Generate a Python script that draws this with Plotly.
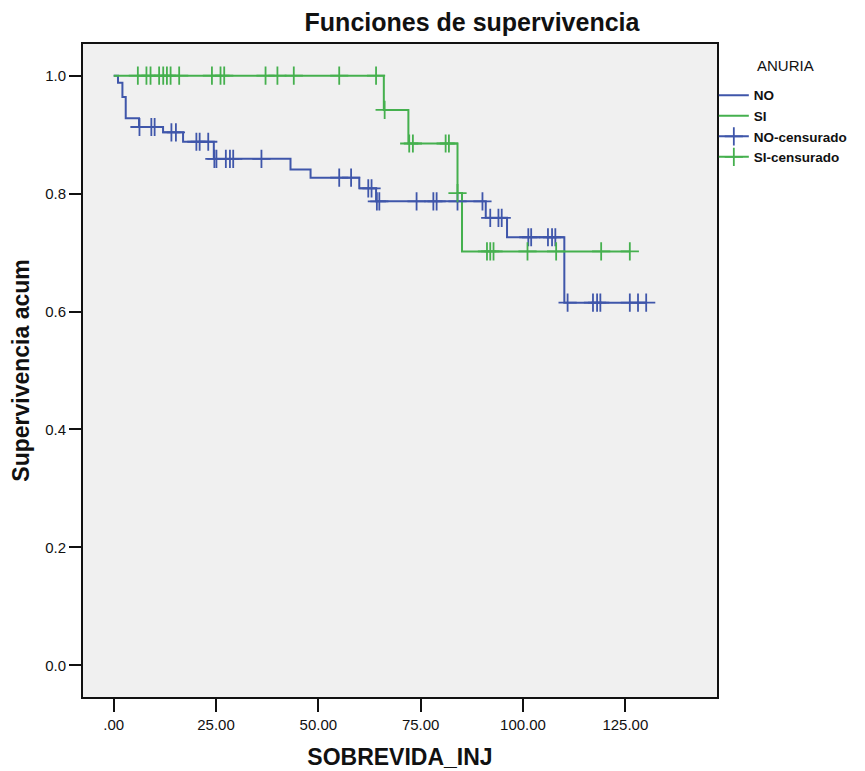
import plotly.graph_objects as go

# ---- data ----
# ANURIA = NO  (event times and survival after each event)
no_event_times = [1.05, 2.13, 2.94, 6.19, 12.06, 16.95, 24.46, 43.2, 48.1, 60.0, 64.1, 90.9, 96.1, 110.1]
no_surv = [0.988, 0.964, 0.928, 0.913, 0.904, 0.888, 0.859, 0.841, 0.827, 0.809, 0.787, 0.759, 0.726, 0.615]
no_censor_times = [6.3, 9.2, 10.0, 14.1, 15.2, 20.2, 21.0, 23.1, 24.6, 25.1, 27.4, 28.4, 29.2, 36.1,
                   55.1, 58.0, 62.2, 63.0, 64.3, 64.9, 74.0, 78.1, 78.9, 84.0, 90.1,
                   92.0, 94.0, 94.8, 101.3, 102.0, 106.1, 107.1, 107.9,
                   110.9, 117.1, 118.1, 118.9, 126.1, 128.1, 130.1]

# ANURIA = SI
si_event_times = [66.0, 72.0, 84.0, 85.1]
si_surv = [0.942, 0.885, 0.801, 0.702]
si_censor_times = [5.9, 8.0, 9.0, 11.1, 12.1, 13.0, 13.9, 16.0, 24.0, 26.1, 27.0, 37.1, 40.0, 44.0,
                   55.1, 64.1, 66.2, 72.2, 73.1, 81.1, 81.9, 84.0,
                   91.2, 92.0, 92.8, 101.1, 108.1, 119.1, 126.1]

x_tickvals = [0, 25, 50, 75, 100, 125]
x_ticktext = [".00", "25.00", "50.00", "75.00", "100.00", "125.00"]
y_tickvals = [0.0, 0.2, 0.4, 0.6, 0.8, 1.0]
y_ticktext = ["0.0", "0.2", "0.4", "0.6", "0.8", "1.0"]

BLUE = "#3F56AA"
GREEN = "#45B04E"
FONT = "Liberation Sans, Arial, sans-serif"

# the page body has an 8px margin; the figure is sized to fill the rest of the window
W, H = 857, 763
ML, MR, MT, MB = 75, 148, 36, 74
PW, PH = W - ML - MR, H - MT - MB


def step_curve(times, surv, end):
    xs = [0.0] + list(times) + [end]
    ys = [1.0] + list(surv) + [surv[-1]]
    return xs, ys


def surv_at(t, times, surv):
    s = 1.0
    for ti, si in zip(times, surv):
        if ti <= t:
            s = si
    return s


no_x, no_y = step_curve(no_event_times, no_surv, max(no_censor_times))
si_x, si_y = step_curve(si_event_times, si_surv, max(si_censor_times))
no_cy = [surv_at(t, no_event_times, no_surv) for t in no_censor_times]
si_cy = [surv_at(t, si_event_times, si_surv) for t in si_censor_times]

fig = go.Figure()
fig.add_trace(go.Scatter(x=no_x, y=no_y, mode="lines", line=dict(color=BLUE, width=2, shape="hv"),
                         name="<b>NO</b>"))
fig.add_trace(go.Scatter(x=si_x, y=si_y, mode="lines", line=dict(color=GREEN, width=2, shape="hv"),
                         name="<b>SI</b>"))
fig.add_trace(go.Scatter(x=no_censor_times, y=no_cy, mode="markers", showlegend=False,
                         marker=dict(symbol="cross-thin", size=13, line=dict(color=BLUE, width=1.8))))
fig.add_trace(go.Scatter(x=si_censor_times, y=si_cy, mode="markers", showlegend=False,
                         marker=dict(symbol="cross-thin", size=13, line=dict(color=GREEN, width=1.8))))
# legend-only entries for censored marks
fig.add_trace(go.Scatter(x=[None], y=[None], mode="lines+markers", name="<b>NO-censurado</b>",
                         line=dict(color=BLUE, width=2),
                         marker=dict(symbol="cross-thin", size=13, line=dict(color=BLUE, width=1.8))))
fig.add_trace(go.Scatter(x=[None], y=[None], mode="lines+markers", name="<b>SI-censurado</b>",
                         line=dict(color=GREEN, width=2),
                         marker=dict(symbol="cross-thin", size=13, line=dict(color=GREEN, width=1.8))))

fig.update_layout(
    width=W, height=H,
    margin=dict(l=ML, r=MR, t=MT, b=MB, autoexpand=False),
    paper_bgcolor="white",
    plot_bgcolor="#F0F0F0",
    font=dict(family=FONT, size=15, color="#111"),
    title=dict(text="<b>Funciones de supervivencia</b>", x=464 / W, xanchor="center",
               y=1 - 14 / H, yanchor="middle", font=dict(family=FONT, size=25, color="#111")),
    legend=dict(x=0.995, xanchor="left", y=0.945, yanchor="top",
                bgcolor="rgba(0,0,0,0)", font=dict(family=FONT, size=13.5, color="#111"),
                tracegroupgap=0, itemwidth=30, borderwidth=0),
    showlegend=True,
    annotations=[dict(text="ANURIA", xref="paper", yref="paper",
                      x=(747 - ML) / PW, y=(PH + MT - 57) / PH,
                      xanchor="left", yanchor="middle", showarrow=False,
                      font=dict(family=FONT, size=15, color="#111"))],
)
fig.update_xaxes(range=[-7.5, 147.4], tickvals=x_tickvals, ticktext=x_ticktext,
                 showgrid=False, zeroline=False, showline=True, mirror=True, automargin=False,
                 linecolor="#111", linewidth=2, ticks="outside", ticklen=13, tickwidth=1.5,
                 tickcolor="#111", tickfont=dict(size=15),
                 title=dict(text="<b>SOBREVIDA_INJ</b>", font=dict(size=23), standoff=17))
fig.update_yaxes(range=[-0.0538, 1.0538], tickvals=y_tickvals, ticktext=y_ticktext,
                 showgrid=False, zeroline=False, showline=True, mirror=True, automargin=False,
                 linecolor="#111", linewidth=2, ticks="outside", ticklen=12, tickwidth=1.5,
                 tickcolor="#111", tickfont=dict(size=15),
                 title=dict(text="<b>Supervivencia acum</b>", font=dict(size=23), standoff=10))

fig.write_html("out.html")
